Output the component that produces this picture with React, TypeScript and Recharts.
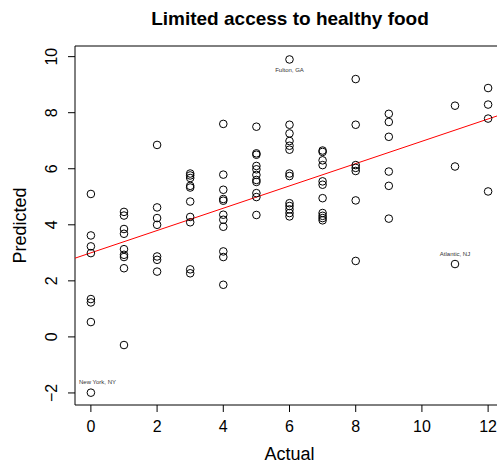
import React from 'react';
import { ScatterChart, Scatter, XAxis, YAxis, ReferenceLine, ReferenceArea } from 'recharts';

// Actual values (x) at which counties are observed
const actualLevels = [0, 1, 2, 3, 4, 5, 6, 7, 8, 9, 11, 12];

// Predicted values for each actual level
const predictedAt0 = [5.1, 3.62, 3.23, 2.99, 1.35, 1.23, 0.53];
const predictedAt1 = [4.46, 4.33, 3.85, 3.68, 3.13, 2.93, 2.85, 2.45, -0.29];
const predictedAt2 = [6.85, 4.62, 4.24, 4.0, 2.87, 2.75, 2.33];
const predictedAt3 = [5.83, 5.76, 5.67, 5.39, 5.33, 4.83, 4.28, 4.09, 2.41, 2.27];
const predictedAt4 = [7.6, 5.79, 5.25, 4.92, 4.86, 4.36, 4.18, 3.93, 3.05, 2.85, 1.86];
const predictedAt5 = [7.5, 6.55, 6.5, 6.1, 5.98, 5.78, 5.6, 5.53, 5.13, 4.99, 4.35];
const predictedAt6 = [7.57, 7.26, 6.99, 6.82, 6.68, 5.83, 5.74, 4.77, 4.67, 4.55, 4.42, 4.3];
const predictedAt7 = [6.65, 6.6, 6.3, 6.13, 5.55, 5.43, 4.95, 4.42, 4.32, 4.24, 4.16];
const predictedAt8 = [9.2, 7.57, 6.13, 6.03, 5.92, 4.87, 2.71];
const predictedAt9 = [7.96, 7.67, 7.14, 5.9, 5.39, 4.22];
const predictedAt11 = [8.25, 6.08];
const predictedAt12 = [8.88, 8.29, 7.79, 5.19];

const predictedByLevel = [
  predictedAt0, predictedAt1, predictedAt2, predictedAt3, predictedAt4, predictedAt5,
  predictedAt6, predictedAt7, predictedAt8, predictedAt9, predictedAt11, predictedAt12,
];

// Labelled outliers
const labelledCounties = ['New York, NY', 'Fulton, GA', 'Atlantic, NJ'];
const labelledActual = [0, 6, 11];
const labelledPredicted = [-1.99, 9.9, 2.6];

// Fitted regression line
const fitIntercept = 3.0;
const fitSlope = 0.398;

// Axis ticks
const xTicks = [0, 2, 4, 6, 8, 10, 12];
const yTicks = [-2, 0, 2, 4, 6, 8, 10];
const xDomain = [-0.48, 12.48];
const yDomain = [-2.43, 10.38];

const points = actualLevels.flatMap((a, i) =>
  predictedByLevel[i].map((p) => ({ actual: a, predicted: p }))
);
const labelled = labelledCounties.map((name, i) => ({
  actual: labelledActual[i],
  predicted: labelledPredicted[i],
  name,
}));
const fitSegment = [
  { x: xDomain[0], y: fitIntercept + fitSlope * xDomain[0] },
  { x: xDomain[1], y: fitIntercept + fitSlope * xDomain[1] },
];

const FONT = '"Liberation Sans", Arial, Helvetica, sans-serif';
const PLOT_LEFT = 75;

const fmt = (v: number) => (v < 0 ? '\u2212' + Math.abs(v) : String(v));

const Circle = (props: any) => {
  const { cx, cy } = props;
  if (cx == null || cy == null) return null;
  return <circle cx={cx} cy={cy} r={3.8} fill="none" stroke="#000" strokeWidth={1} />;
};

const LabelledCircle = (props: any) => {
  const { cx, cy, payload } = props;
  if (cx == null || cy == null) return null;
  const below = payload.predicted > 9;
  // keep the label inside the plot box if centering would push it over the left edge
  const halfWidth = payload.name.length * 1.6;
  const overflowLeft = cx - halfWidth < PLOT_LEFT + 2;
  return (
    <g>
      <circle cx={cx} cy={cy} r={3.8} fill="none" stroke="#000" strokeWidth={1} />
      <text
        x={overflowLeft ? PLOT_LEFT + 4 : cx}
        y={below ? cy + 13 : cy - 8.5}
        textAnchor={overflowLeft ? 'start' : 'middle'}
        fontSize={6}
        fill="#333"
        fontFamily={FONT}
      >
        {payload.name}
      </text>
    </g>
  );
};

const XTick = (props: any) => {
  const { x, payload } = props;
  return (
    <text x={x} y={431.5} textAnchor="middle" fontSize={16} fill="#000" fontFamily={FONT}>
      {fmt(payload.value)}
    </text>
  );
};

const YTick = (props: any) => {
  const { y, payload } = props;
  const bx = 57;
  return (
    <text
      x={bx}
      y={y}
      transform={`rotate(-90, ${bx}, ${y})`}
      textAnchor="middle"
      fontSize={16}
      fill="#000"
      fontFamily={FONT}
    >
      {fmt(payload.value)}
    </text>
  );
};

export default function App() {
  return (
    <div
      style={{
        position: 'fixed',
        left: 0,
        top: 0,
        width: 497,
        height: 465,
        overflow: 'hidden',
        background: '#fff',
      }}
    >
      <div
        style={{
          position: 'absolute',
          left: 0,
          top: 9,
          width: 580,
          textAlign: 'center',
          fontFamily: FONT,
          fontWeight: 'bold',
          fontSize: 19,
          lineHeight: '19px',
          color: '#000',
          whiteSpace: 'nowrap',
        }}
      >
        Limited access to healthy food
      </div>
      <ScatterChart
        width={510}
        height={465}
        margin={{ top: 46, right: 6, bottom: 0, left: 0 }}
      >
        <XAxis
          type="number"
          dataKey="actual"
          domain={xDomain}
          ticks={xTicks}
          allowDataOverflow
          axisLine={false}
          tickLine={{ stroke: '#000', strokeWidth: 1 }}
          tickSize={7}
          height={60}
          tick={<XTick />}
          interval={0}
          label={{
            content: (p: any) => {
              const vb = p.viewBox || {};
              const cx = (vb.x ?? 75) + (vb.width ?? 429) / 2;
              return (
                <text x={cx} y={460} textAnchor="middle" fontSize={18} fill="#000" fontFamily={FONT}>
                  Actual
                </text>
              );
            },
          }}
        />
        <YAxis
          type="number"
          dataKey="predicted"
          domain={yDomain}
          ticks={yTicks}
          allowDataOverflow
          axisLine={false}
          tickLine={{ stroke: '#000', strokeWidth: 1 }}
          tickSize={7}
          width={75}
          tick={<YTick />}
          interval={0}
          label={{
            content: (p: any) => {
              const vb = p.viewBox || {};
              const cy = (vb.y ?? 46) + (vb.height ?? 359) / 2;
              return (
                <text
                  x={26}
                  y={cy}
                  transform={`rotate(-90, 26, ${cy})`}
                  textAnchor="middle"
                  fontSize={18}
                  fill="#000"
                  fontFamily={FONT}
                >
                  Predicted
                </text>
              );
            },
          }}
        />
        <ReferenceArea
          x1={xDomain[0]}
          x2={xDomain[1]}
          y1={yDomain[0]}
          y2={yDomain[1]}
          fill="none"
          fillOpacity={0}
          stroke="#000"
          strokeWidth={1}
          ifOverflow="visible"
        />
        <Scatter data={points} shape={<Circle />} isAnimationActive={false} />
        <Scatter data={labelled} shape={<LabelledCircle />} isAnimationActive={false} />
        <ReferenceLine
          segment={fitSegment}
          stroke="#ff0000"
          strokeWidth={1}
          ifOverflow="visible"
        />
      </ScatterChart>
    </div>
  );
}
